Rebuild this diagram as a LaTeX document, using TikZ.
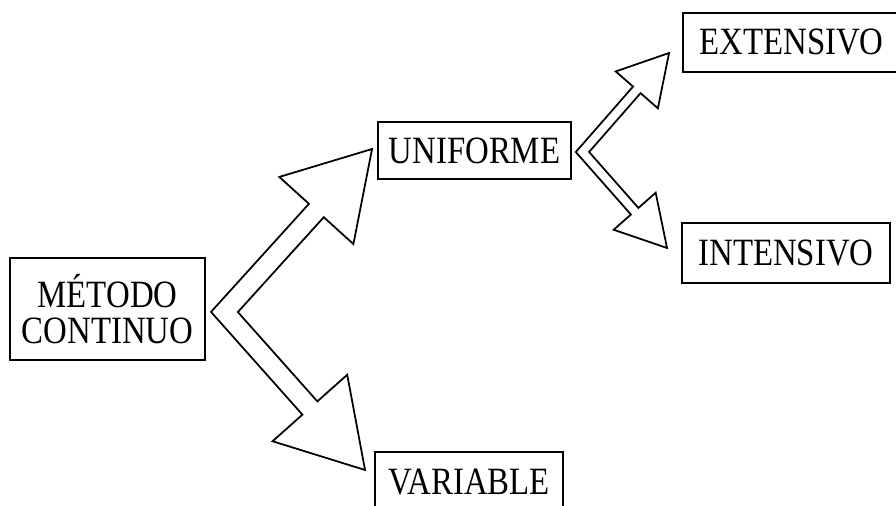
\documentclass[tikz,border=0pt]{standalone}
\usepackage{fontspec}
\setmainfont[FakeStretch=0.85]{Liberation Serif}
\usetikzlibrary{calc,intersections}
\tikzset{
  box/.style={draw=black, line width=1.1pt, inner sep=0pt, font=\fontsize{22}{20.5}\selectfont},
  arr/.style={draw=black, fill=white, line width=1pt, line join=miter}
}
% two block arrows out of one bend: #1 bend, #2 upper tip, #3 lower tip,
% #4 half shaft, #5 half head, #6 head length
\newcommand\forkarrow[6]{%
  \coordinate (bu) at ($(#2)!#6!(#1)$);
  \coordinate (bl) at ($(#3)!#6!(#1)$);
  \coordinate (suo) at ($(bu)!#4!90:(#2)$);
  \coordinate (sui) at ($(bu)!#4!-90:(#2)$);
  \coordinate (slo) at ($(bl)!#4!-90:(#3)$);
  \coordinate (sli) at ($(bl)!#4!90:(#3)$);
  \coordinate (vuo) at ($(#1)!#4!90:(bu)$);
  \coordinate (vui) at ($(#1)!#4!-90:(bu)$);
  \coordinate (vlo) at ($(#1)!#4!-90:(bl)$);
  \coordinate (vli) at ($(#1)!#4!90:(bl)$);
  \path[name path=uo] (suo) -- ($(suo)!1.5!(vuo)$);
  \path[name path=lo] (slo) -- ($(slo)!1.5!(vlo)$);
  \path[name path=ui] (sui) -- ($(sui)!1.5!(vui)$);
  \path[name path=li] (sli) -- ($(sli)!1.5!(vli)$);
  \path[name intersections={of=uo and lo, by=ov}];
  \path[name intersections={of=ui and li, by=iv}];
  \draw[arr] (#2) -- ($(bu)!#5!90:(#2)$) -- (suo) -- (ov) -- (slo)
    -- ($(bl)!#5!-90:(#3)$) -- (#3) -- ($(bl)!#5!90:(#3)$) -- (sli)
    -- (iv) -- (sui) -- ($(bu)!#5!-90:(#2)$) -- cycle;
}

\begin{document}
\begin{tikzpicture}[x=0.02cm, y=-0.02cm]
  \useasboundingbox (0,0) rectangle (896,506);
  \clip (0,0) rectangle (896,506);

  \node[box, minimum width=3.9cm, minimum height=2.04cm, align=center] (metodo) at (107.5,309) {MÉTODO\\CONTINUO};
  \node[box, minimum width=3.86cm, minimum height=1.14cm] (uniforme) at (474.5,150.5) {UNIFORME};
  \node[box, minimum width=3.76cm, minimum height=1.2cm] (variable) at (469,482) {VARIABLE};
  \node[box, minimum width=4.34cm, minimum height=1.18cm] (extensivo) at (791.5,42.5) {EXTENSIVO};
  \node[box, minimum width=4.16cm, minimum height=1.2cm] (intensivo) at (786,253) {INTENSIVO};

  \coordinate (bend1) at ($(metodo.east)+(18.5,3)$);
  \coordinate (tip1) at ($(uniforme.west)+(-5,-1.5)$);
  \coordinate (tip2) at ($(variable.west)+(-9,-12)$);
  \forkarrow{bend1}{tip1}{tip2}{0.2cm}{1cm}{1.66cm}

  \coordinate (bend2) at ($(uniforme.east)+(10.5,1.5)$);
  \coordinate (tip3) at ($(extensivo.west)+(-13,10.5)$);
  \coordinate (tip4) at ($(intensivo.west)+(-14,-5)$);
  \forkarrow{bend2}{tip3}{tip4}{0.1cm}{0.56cm}{0.98cm}
\end{tikzpicture}
\end{document}
